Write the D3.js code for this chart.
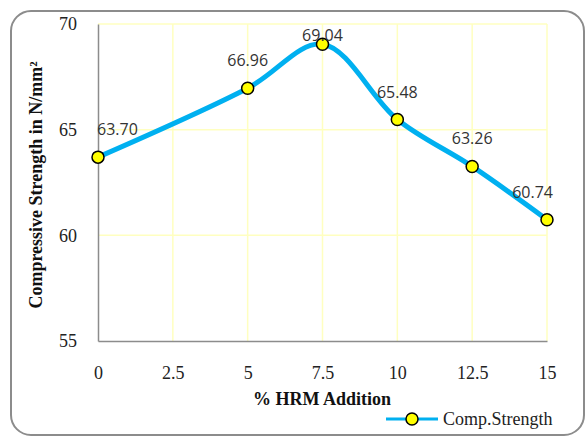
<!DOCTYPE html>
<html>

<head>
    <script src="https://cdnjs.cloudflare.com/ajax/libs/d3/7.8.5/d3.min.js"></script>
    <style>
        body {
            margin: 0;
            background: #fff;
        }

        .title {
            font-family: 'Liberation Serif', 'Times New Roman', serif;
            font-weight: bold;
            font-size: 18px;
            fill: #111;
        }

        .lbl {
            font-family: 'Open Sans', sans-serif;
            font-size: 16px;
            fill: #333;
        }
    </style>
</head>

<body>
    <div id="root"></div>
    <script>
        const hrm = [0, 5, 7.5, 10, 12.5, 15]
        const strength = [63.70, 66.96, 69.04, 65.48, 63.26, 60.74]
        const xTicks = [0, 2.5, 5, 7.5, 10, 12.5, 15]
        const yTicks = [55, 60, 65, 70]
        const seriesName = 'Comp.Strength'

        const w = 586
        const h = 437
        const pLeft = 98, pRight = 547, pTop = 24, pBottom = 341
        const serif = "'Liberation Serif', 'Times New Roman', serif"

        const svg = d3.select('#root').append('svg')
            .attr('width', w)
            .attr('height', h)

        svg.append('rect')
            .attr('x', 11).attr('y', 11)
            .attr('width', 573).attr('height', 424)
            .attr('rx', 20)
            .attr('fill', '#fff')
            .attr('stroke', '#8c8c8c')
            .attr('stroke-width', 2)

        const x = d3.scaleLinear().domain([0, 15]).range([pLeft, pRight])
        const y = d3.scaleLinear().domain([55, 70]).range([pBottom, pTop])

        // grid
        svg.append('g').selectAll('line')
            .data(xTicks.slice(1))
            .enter().append('line')
            .attr('x1', d => x(d)).attr('x2', d => x(d))
            .attr('y1', pTop).attr('y2', pBottom)
            .attr('stroke', '#ffffc0').attr('stroke-width', 1.5)
        svg.append('g').selectAll('line')
            .data(yTicks.slice(1))
            .enter().append('line')
            .attr('x1', pLeft).attr('x2', pRight)
            .attr('y1', d => y(d)).attr('y2', d => y(d))
            .attr('stroke', '#ffffc0').attr('stroke-width', 1.5)

        // axes
        const xAxis = svg.append('g')
            .attr('transform', `translate(0,${pBottom})`)
            .call(d3.axisBottom(x).tickValues(xTicks).tickSize(0).tickPadding(25).tickFormat(d3.format('')))
        xAxis.select('.domain').attr('stroke', '#8c8c8c').attr('stroke-width', 1.5)

        const yAxis = svg.append('g')
            .attr('transform', `translate(${pLeft},0)`)
            .call(d3.axisLeft(y).tickValues(yTicks).tickSize(0).tickPadding(21))
        yAxis.select('.domain').attr('stroke', '#8c8c8c').attr('stroke-width', 1.5)

        svg.selectAll('.tick text')
            .attr('font-family', serif)
            .attr('font-size', 18)
            .attr('fill', '#222')

        svg.append('text')
            .attr('class', 'title')
            .attr('x', 322).attr('y', 405)
            .attr('text-anchor', 'middle')
            .text('% HRM Addition')

        svg.append('text')
            .attr('class', 'title')
            .attr('transform', 'translate(42,185) rotate(-90)')
            .attr('text-anchor', 'middle')
            .text('Compressive Strength in N/mm²')

        const pts = hrm.map((d, i) => ({ x: d, y: strength[i] }))

        const line = d3.line()
            .x(d => x(d.x))
            .y(d => y(d.y))
            .curve(d3.curveCatmullRom.alpha(0.5))

        svg.append('path')
            .datum(pts)
            .attr('d', line)
            .attr('fill', 'none')
            .attr('stroke', '#00b0f0')
            .attr('stroke-width', 5)
            .attr('stroke-linejoin', 'round')

        svg.append('g').selectAll('circle')
            .data(pts)
            .enter().append('circle')
            .attr('cx', d => x(d.x))
            .attr('cy', d => y(d.y))
            .attr('r', 6)
            .attr('fill', '#ffff00')
            .attr('stroke', '#000')
            .attr('stroke-width', 1.5)

        svg.append('g').selectAll('text')
            .data(pts)
            .enter().append('text')
            .attr('class', 'lbl')
            .attr('x', (d, i) => i == 0 ? x(d.x) - 1 : i == pts.length - 1 ? x(d.x) + 6 : x(d.x))
            .attr('y', d => Math.max(y(d.y) - 22, pTop + 17))
            .attr('text-anchor', (d, i) => i == 0 ? 'start' : i == pts.length - 1 ? 'end' : 'middle')
            .text(d => d.y.toFixed(2))

        // legend
        const lg = svg.append('g')
        lg.append('line')
            .attr('x1', 386).attr('x2', 438)
            .attr('y1', 419).attr('y2', 419)
            .attr('stroke', '#00b0f0').attr('stroke-width', 3)
        lg.append('circle')
            .attr('cx', 412).attr('cy', 419).attr('r', 6)
            .attr('fill', '#ffff00').attr('stroke', '#000').attr('stroke-width', 1.5)
        lg.append('text')
            .attr('x', 443).attr('y', 425)
            .attr('font-family', serif)
            .attr('font-size', 18)
            .attr('fill', '#222')
            .text(seriesName)
    </script>
</body>

</html>
